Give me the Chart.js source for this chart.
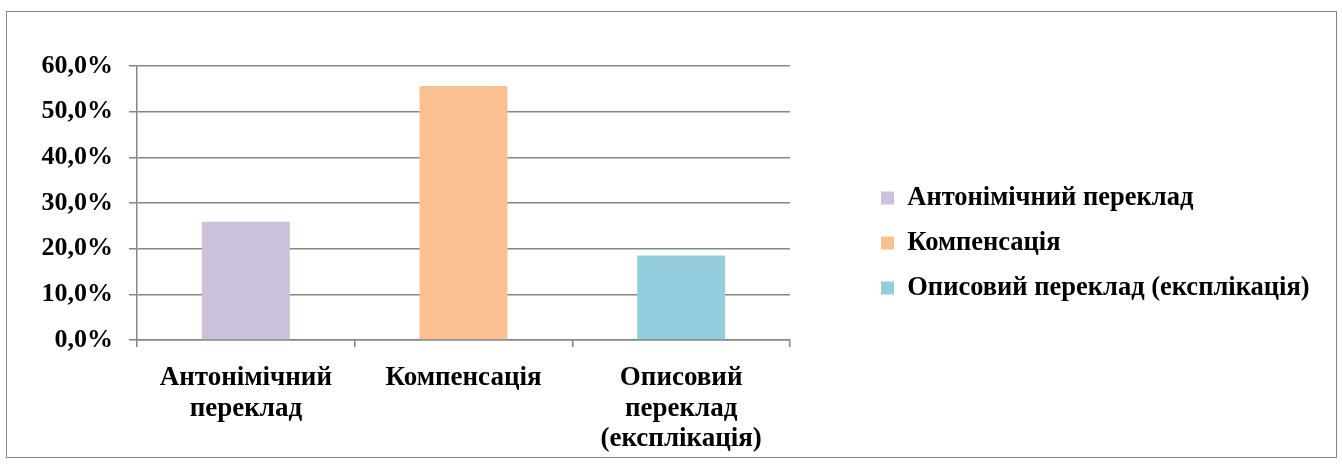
<!DOCTYPE html>
<html lang="uk">
<head>
<meta charset="utf-8">
<title>Способи перекладу</title>
<script src="https://cdn.jsdelivr.net/npm/chart.js@4.4.1/dist/chart.umd.min.js"></script>
<style>
  html, body { margin: 0; padding: 0; background: #ffffff; }
  #frame {
    position: absolute; left: 6px; top: 11px;
    width: 1329px; height: 445px;
    border: 1px solid #868686;
  }
  #chart { position: absolute; left: 0; top: 0; }
</style>
</head>
<body>
<div id="frame"></div>
<canvas id="chart" width="1342" height="464"></canvas>
<script>
// Translation methods and their shares, in percent
const categories = ['Антонімічний переклад', 'Компенсація', 'Описовий переклад (експлікація)'];
const axisLabelLines = [['Антонімічний', 'переклад'], ['Компенсація'], ['Описовий', 'переклад', '(експлікація)']];
const shares = [25.9, 55.6, 18.5];
const barColors = ['#CCC1DA', '#FAC090', '#93CDDD'];
const tickLabels = ['0,0%', '10,0%', '20,0%', '30,0%', '40,0%', '50,0%', '60,0%'];

const axisGray = '#868686';
const boldSerif = (size, lineHeight) => ({
  family: '"Liberation Serif", "Times New Roman", serif',
  size: size,
  weight: 'bold',
  lineHeight: lineHeight || 1.2
});

// Invisible spacer axes that reserve room around the plot area
const spacer = (position, size) => ({
  type: 'category',
  position: position,
  display: true,
  grid: { display: false },
  border: { display: false },
  ticks: { display: false },
  afterFit: (scale) => {
    if (position === 'top') { scale.height = size; } else { scale.width = size; }
  }
});

new Chart(document.getElementById('chart'), {
  type: 'bar',
  data: {
    labels: axisLabelLines,
    datasets: [{
      data: shares,
      backgroundColor: barColors,
      borderWidth: 0,
      categoryPercentage: 1,
      barPercentage: 0.404
    }]
  },
  options: {
    responsive: false,
    animation: false,
    devicePixelRatio: 1,
    layout: { padding: { left: 0, top: 22, right: 29.5, bottom: 0 } },
    plugins: {
      tooltip: { enabled: false },
      legend: {
        display: true,
        position: 'right',
        align: 'center',
        maxWidth: 450,
        labels: {
          color: '#000000',
          font: boldSerif(26.5),
          boxWidth: 13,
          boxHeight: 13,
          padding: 18.5,
          generateLabels: () => categories.map((name, i) => ({
            text: name,
            fillStyle: barColors[i],
            strokeStyle: barColors[i],
            lineWidth: 0,
            hidden: false,
            index: i
          }))
        }
      }
    },
    scales: {
      x: {
        grid: { display: true, drawOnChartArea: false, drawTicks: true, tickLength: 7, color: axisGray, lineWidth: 1.5, offset: true },
        border: { display: true, color: axisGray, width: 1.5 },
        ticks: { color: '#000000', font: boldSerif(27, 1.13), padding: 16, maxRotation: 0, autoSkip: false },
        afterFit: (scale) => { scale.height = 124; }
      },
      y: {
        min: 0,
        max: 60,
        grid: { color: axisGray, lineWidth: 1.5, drawTicks: true, tickLength: 8 },
        border: { display: true, color: axisGray, width: 1.5 },
        ticks: {
          stepSize: 10,
          color: '#000000',
          font: boldSerif(26),
          padding: 16,
          callback: (value, index) => tickLabels[index]
        },
        afterFit: (scale) => { scale.width = 137; }
      },
      topGap: spacer('top', 44),
      legendGap: spacer('right', 72.5)
    }
  }
});
</script>
</body>
</html>
